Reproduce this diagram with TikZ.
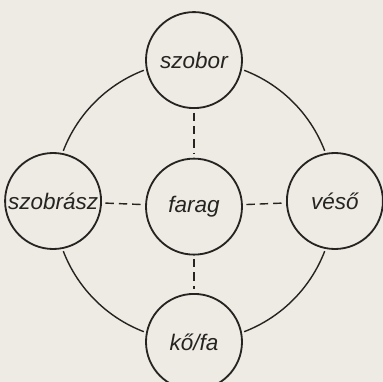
\documentclass[tikz,border=0pt]{standalone}
\usepackage{fontspec}
\setmainfont{Liberation Sans}
\definecolor{paper}{RGB}{237, 235, 227}
\definecolor{ink}{RGB}{38, 36, 33}
\usetikzlibrary{positioning}
\tikzset{
	word/.style={circle, draw=ink, line width=1.3pt, minimum size=2.4cm, inner sep=0pt, text=ink, font=\fontsize{16}{18}\selectfont\itshape},
	ring/.style={draw=ink, line width=1pt},
	link/.style={draw=ink, line width=1pt, dash pattern=on 6pt off 3.5pt, shorten >=2.5pt, shorten <=2.5pt},
}
\newcommand{\R}{3.5cm}

\begin{document}
\begin{tikzpicture}
	\fill[paper] (-4.85,-4.525) rectangle (4.725,5.025);
	\useasboundingbox (-4.85,-4.525) rectangle (4.725,5.025);
	\coordinate (hub) at (0,0);
	\node[word] (farag) at ([yshift=-4pt]hub) {farag};
	\node[word, above=2.3cm of hub] (szobor) {szobor};
	\node[word, left=2.3cm of hub] (szobrasz) {szobrász};
	\node[word, right=2.3cm of hub] (veso) {véső};
	\node[word, below=2.3cm of hub] (kofa) {kő/fa};
	% outer ring, broken at the four nodes
	\draw[ring] ([shift={(111:\R)}]hub) arc[start angle=111, end angle=159, radius=\R];
	\draw[ring] ([shift={(201:\R)}]hub) arc[start angle=201, end angle=249, radius=\R];
	\draw[ring] ([shift={(291:\R)}]hub) arc[start angle=291, end angle=339, radius=\R];
	\draw[ring] ([shift={(21:\R)}]hub) arc[start angle=21, end angle=69, radius=\R];
	% dashed spokes
	\draw[link] (szobor) -- (farag);
	\draw[link] (szobrasz) -- (farag);
	\draw[link] (farag) -- (veso);
	\draw[link] (farag) -- (kofa);
\end{tikzpicture}
\end{document}
